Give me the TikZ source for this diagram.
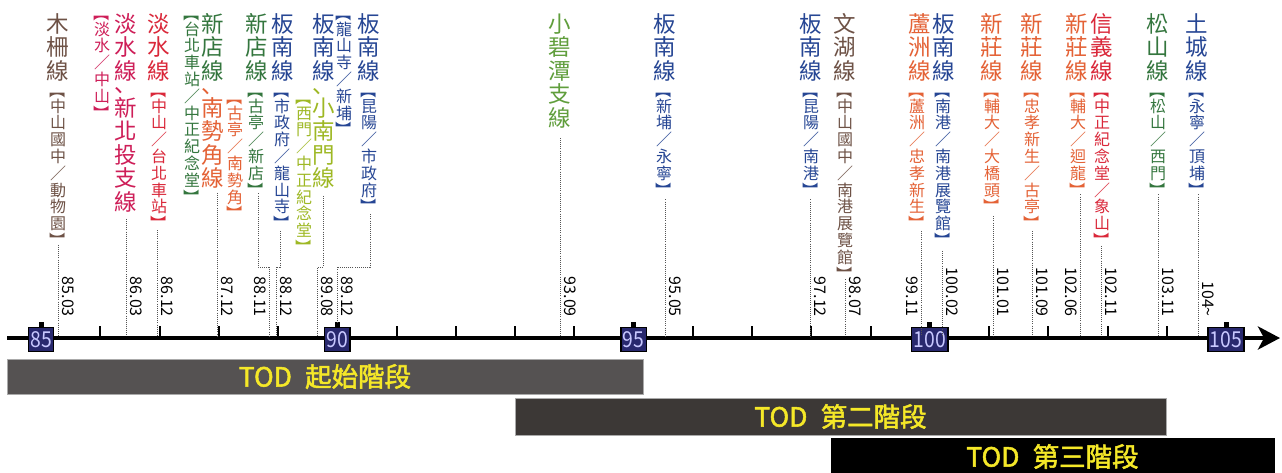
\documentclass[tikz,border=0pt]{standalone}
\usepackage{fontspec}
\usepackage{graphicx}
\usetikzlibrary{arrows.meta,calc}
\newfontfamily\cjk{Noto Sans CJK TC}
\newfontfamily\cjksc{Noto Sans CJK SC}
\newfontfamily\cjkb[FakeBold=2]{Noto Sans CJK TC}
\newfontfamily\yrf[FakeStretch=0.88]{Noto Sans CJK TC}
\newdimen\vgap
\def\vcEnd{\vcEnd}
\newcommand\vcol[1]{\vbox{\offinterlineskip\vcLoop#1\vcEnd}}
\def\vcLoop#1{\ifx#1\vcEnd\else\vitem#1\expandafter\vcLoop\fi}
\def\vitem#1{\ifx#1【\vopen\else\ifx#1】\vclose\else\ifx#1、\vcomma\else\vchar#1\fi\fi\fi}
\def\vchar#1{\hbox to 1em{\hss\vrule width 0pt height .88em depth .12em\relax#1\hss}\kern\vgap}
\def\vopen{\kern-.45em\hbox to 1em{\hss\rotatebox{-90}{【}\hss}}
\def\vclose{\hbox to 1em{\hss\rotatebox{-90}{】}\hss}\kern-.42em}
\def\vcomma{\hbox to 1em{\vrule width 0pt height .45em depth .15em\relax{\cjksc 、}\hss}}
\newcommand\bigf{\cjk\fontsize{22.5}{23.5}\selectfont\vgap=1pt\relax}
\newcommand\smallf{\cjk\fontsize{16}{17}\selectfont\vgap=.8pt\relax}
\newcommand\datef{\cjk\fontsize{16}{16}\selectfont}
\newcommand\barf{\cjkb\fontsize{26.5}{28}\selectfont}
\newcommand\yrfs{\yrf\fontsize{22}{22}\selectfont}
\definecolor{brownc}{RGB}{110,82,70}
\definecolor{crimc}{RGB}{206,30,88}
\definecolor{redc}{RGB}{218,40,58}
\definecolor{greenc}{RGB}{52,118,62}
\definecolor{orangec}{RGB}{228,98,54}
\definecolor{bluec}{RGB}{38,70,148}
\definecolor{ygreenc}{RGB}{158,184,36}
\definecolor{lgreenc}{RGB}{96,158,60}
\definecolor{navyc}{RGB}{40,40,110}
\definecolor{yrtext}{RGB}{200,200,255}
\definecolor{bar1c}{RGB}{85,82,82}
\definecolor{bar2c}{RGB}{60,56,54}
\definecolor{yellowc}{RGB}{245,232,40}
\definecolor{dotc}{RGB}{85,85,85}
\tikzset{
 vbig/.style={inner sep=0pt, anchor=north, font=\bigf},
 vsmall/.style={inner sep=0pt, anchor=north, font=\smallf},
 dotl/.style={line width=1pt, dash pattern=on 1pt off 1.1pt, draw=dotc},
 datel/.style={inner sep=0pt, rotate=-90, font=\datef, text=black},
 yrbox/.style={draw=black, line width=1.5pt, fill=navyc, text=yrtext, inner xsep=2pt, inner ysep=0pt, minimum height=24pt, font=\yrfs},
 tickl/.style={line width=2pt, draw=black},
 bar/.style={inner sep=0pt, text=yellowc, font=\barf, draw={rgb,255:red,170;green,170;blue,170}, line width=0.8pt},
}
\begin{document}
\begin{tikzpicture}[x=1pt,y=-1pt]
\useasboundingbox (0,0) rectangle (1282,472);
\fill[white] (0,0) rectangle (1282,472);

% ---------- axis ----------
\coordinate (axs) at (7,338);
\coordinate (axe) at (1280,338);
\foreach \yr in {86,87,88,89,91,92,93,94,96,97,98,99,101,102,103,104}
  \draw[tickl] ({41+(\yr-85)*59.25},326) -- ({41+(\yr-85)*59.25},338);
\foreach \yr in {85,90,95,100,105}
  \fill ({41+(\yr-85)*59.25-2.5},321.5) rectangle ({41+(\yr-85)*59.25+2.5},328);
\draw[line width=4.5pt, -{Stealth[length=22pt, width=23pt, inset=6pt]}] (axs) -- (axe);

% ---------- date points on axis ----------
\coordinate (p8503) at (58,336);
\coordinate (p8603) at (126,336);
\coordinate (p8612) at (157,336);
\coordinate (p8712) at (217,336);
\coordinate (k8811) at (269,267);
\coordinate (p8811) at (269,336);
\coordinate (k8812) at (276,267);
\coordinate (p8812) at (276,336);
\coordinate (k8908) at (317,267);
\coordinate (p8908) at (317,336);
\coordinate (k8912) at (337,267);
\coordinate (p8912) at (337,322);
\coordinate (p9309) at (560,336);
\coordinate (p9505) at (665,336);
\coordinate (p9712) at (810,336);
\coordinate (p9807) at (845,336);
\coordinate (p9911) at (921,336);
\coordinate (p10002) at (942,336);
\coordinate (p10101) at (993,336);
\coordinate (p10109) at (1032,336);
\coordinate (p10206) at (1080,336);
\coordinate (p10211) at (1101,336);
\coordinate (p10311) at (1158,336);
\coordinate (p104) at (1198,336);

% ---------- year boxes ----------
\node[yrbox] (y85) at (41,339.5) {85};
\node[yrbox] (y90) at (337.25,339.5) {90};
\node[yrbox] (y95) at (633.5,339.5) {95};
\node[yrbox] (y100) at (929.75,339.5) {100};
\node[yrbox] (y105) at (1226,339.5) {105};

% ---------- line labels ----------
\node[vbig, text=brownc] (A1) at (58,12) {\vcol{木柵線}};
\node[vsmall, text=brownc] (A2) at (58,89) {\vcol{【中山國中／動物園】}};

\node[vsmall, text=crimc] (B1) at (102,12) {\vcol{【淡水／中山】}};
\node[vbig, text=crimc] (B2) at (126,12) {\vcol{淡水線、新北投支線}};

\node[vbig, text=redc] (C1) at (159,12) {\vcol{淡水線}};
\node[vsmall, text=redc] (C2) at (159,89) {\vcol{【中山／台北車站】}};

\node[vsmall, text=greenc] (D1) at (192,12) {\vcol{【台北車站／中正紀念堂】}};
\node[vbig, text=greenc] (D2) at (213,12) {\vcol{新店線}};
\node[vbig, text=orangec] (D3) at (D2.south) {\vcol{、南勢角線}};
\node[vsmall, text=orangec] (D4) at (235,96) {\vcol{【古亭／南勢角】}};

\node[vbig, text=greenc] (E1) at (257,12) {\vcol{新店線}};
\node[vsmall, text=greenc] (E2) at (256,89) {\vcol{【古亭／新店】}};

\node[vbig, text=bluec] (F1) at (283,12) {\vcol{板南線}};
\node[vsmall, text=bluec] (F2) at (282,89) {\vcol{【市政府／龍山寺】}};

\node[vbig, text=bluec] (G1) at (324,12) {\vcol{板南線}};
\node[vbig, text=ygreenc] (G2) at (G1.south) {\vcol{、小南門線}};
\node[vsmall, text=ygreenc] (G3) at (304,96) {\vcol{【西門／中正紀念堂】}};
\node[vsmall, text=bluec] (G4) at (344,12) {\vcol{【龍山寺／新埔】}};

\node[vbig, text=bluec] (H1) at (369,12) {\vcol{板南線}};
\node[vsmall, text=bluec] (H2) at (369,89) {\vcol{【昆陽／市政府】}};

\node[vbig, text=lgreenc] (I1) at (560,12) {\vcol{小碧潭支線}};

\node[vbig, text=bluec] (J1) at (665,12) {\vcol{板南線}};
\node[vsmall, text=bluec] (J2) at (664,89) {\vcol{【新埔／永寧】}};

\node[vbig, text=bluec] (K1) at (811,12) {\vcol{板南線}};
\node[vsmall, text=bluec] (K2) at (811,89) {\vcol{【昆陽／南港】}};

\node[vbig, text=brownc] (L1) at (845,12) {\vcol{文湖線}};
\node[vsmall, text=brownc] (L2) at (845,89) {\vcol{【中山國中／南港展覽館】}};

\node[vbig, text=orangec] (M1) at (920,12) {\vcol{蘆洲線}};
\node[vsmall, text=orangec] (M2) at (917,89) {\vcol{【蘆洲／忠孝新生】}};

\node[vbig, text=bluec] (N1) at (944,12) {\vcol{板南線}};
\node[vsmall, text=bluec] (N2) at (943,89) {\vcol{【南港／南港展覽館】}};

\node[vbig, text=orangec] (O1) at (992,12) {\vcol{新莊線}};
\node[vsmall, text=orangec] (O2) at (992,89) {\vcol{【輔大／大橋頭】}};

\node[vbig, text=orangec] (P1) at (1032,12) {\vcol{新莊線}};
\node[vsmall, text=orangec] (P2) at (1032,89) {\vcol{【忠孝新生／古亭】}};

\node[vbig, text=orangec] (Q1) at (1077,12) {\vcol{新莊線}};
\node[vsmall, text=orangec] (Q2) at (1078,89) {\vcol{【輔大／迴龍】}};

\node[vbig, text=redc] (R1) at (1102,12) {\vcol{信義線}};
\node[vsmall, text=redc] (R2) at (1102,89) {\vcol{【中正紀念堂／象山】}};

\node[vbig, text=greenc] (S1) at (1158,12) {\vcol{松山線}};
\node[vsmall, text=greenc] (S2) at (1158,89) {\vcol{【松山／西門】}};

\node[vbig, text=bluec] (T1) at (1197,12) {\vcol{土城線}};
\node[vsmall, text=bluec] (T2) at (1197,89) {\vcol{【永寧／頂埔】}};

% ---------- dotted leaders ----------
\draw[dotl] ($(A2.south -| p8503)+(0,3)$) -- (p8503);
\draw[dotl] ($(B2.south -| p8603)+(0,5)$) -- (p8603);
\draw[dotl] ($(C2.south -| p8612)+(0,5)$) -- (p8612);
\draw[dotl] ($(D3.south -| p8712)+(0,2)$) -- (p8712);
\draw[dotl] ($(E2.south)+(2,2)$) |- (k8811) -- (p8811);
\draw[dotl] ($(F2.south)+(-2,6)$) |- (k8812) -- (p8812);
\draw[dotl] ($(G2.south)+(-1,5)$) |- (k8908) -- (p8908);
\draw[dotl] ($(H2.south)+(1,6)$) |- (k8912) -- (p8912);
\draw[dotl] ($(I1.south -| p9309)+(0,8)$) -- (p9309);
\draw[dotl] ($(J2.south -| p9505)+(0,8)$) -- (p9505);
\draw[dotl] ($(K2.south -| p9712)+(0,8)$) -- (p9712);
\draw[dotl] ($(L2.south -| p9807)+(0,4)$) -- (p9807);
\draw[dotl] ($(M2.south -| p9911)+(0,6)$) -- (p9911);
\draw[dotl] ($(N2.south -| p10002)+(0,9)$) -- (p10002);
\draw[dotl] ($(O2.south -| p10101)+(0,8)$) -- (p10101);
\draw[dotl] ($(P2.south -| p10109)+(0,6)$) -- (p10109);
\draw[dotl] ($(Q2.south -| p10206)+(0,3)$) -- (p10206);
\draw[dotl] ($(R2.south -| p10211)+(0,4)$) -- (p10211);
\draw[dotl] ($(S2.south -| p10311)+(0,3)$) -- (p10311);
\draw[dotl] ($(T2.south -| p104)+(0,3)$) -- (p104);

% ---------- dates ----------
\node[datel, anchor=south east] (d8503) at ($(p8503)+(4.5,-19)$) {85.03};
\node[datel, anchor=south east] (d8603) at ($(p8603)+(4.5,-19)$) {86.03};
\node[datel, anchor=south east] (d8612) at ($(p8612)+(4.5,-19)$) {86.12};
\node[datel, anchor=south east] (d8712) at ($(p8712)+(4.5,-19)$) {87.12};
\node[datel, anchor=north east] (d8811) at ($(p8811)+(-2.5,-19)$) {88.11};
\node[datel, anchor=south east] (d8812) at ($(p8812)+(4.5,-19)$) {88.12};
\node[datel, anchor=south east] (d8908) at ($(p8908)+(4.5,-19)$) {89.08};
\node[datel, anchor=south east] (d8912) at ($(p8912)+(4.5,-5)$) {89.12};
\node[datel, anchor=south east] (d9309) at ($(p9309)+(4.5,-19)$) {93.09};
\node[datel, anchor=south east] (d9505) at ($(p9505)+(4.5,-19)$) {95.05};
\node[datel, anchor=south east] (d9712) at ($(p9712)+(4.5,-19)$) {97.12};
\node[datel, anchor=south east] (d9807) at ($(p9807)+(4.5,-19)$) {98.07};
\node[datel, anchor=north east] (d9911) at ($(p9911)+(-2.5,-19)$) {99.11};
\node[datel, anchor=south east] (d10002) at ($(p10002)+(4.5,-19)$) {100.02};
\node[datel, anchor=south east] (d10101) at ($(p10101)+(4.5,-19)$) {101.01};
\node[datel, anchor=south east] (d10109) at ($(p10109)+(4.5,-19)$) {101.09};
\node[datel, anchor=north east] (d10206) at ($(p10206)+(-2.5,-19)$) {102.06};
\node[datel, anchor=south east] (d10211) at ($(p10211)+(4.5,-19)$) {102.11};
\node[datel, anchor=south east] (d10311) at ($(p10311)+(4.5,-19)$) {103.11};
\node[datel, anchor=south east] (d104) at ($(p104)+(4.5,-19)$) {104\textasciitilde};

% ---------- phase bars ----------
\node[bar, fill=bar1c, minimum width=636pt, minimum height=35pt] (bar1) at (325,376.5) {TOD\hspace{.5em}起始階段};
\node[bar, fill=bar2c, minimum width=651pt, minimum height=37pt] (bar2) at (840.5,416.5) {TOD\hspace{.5em}第二階段};
\node[bar, fill=black, draw=black, minimum width=443pt, minimum height=37pt] (bar3) at (1052.5,456.5) {TOD\hspace{.5em}第三階段};
\end{tikzpicture}
\end{document}
